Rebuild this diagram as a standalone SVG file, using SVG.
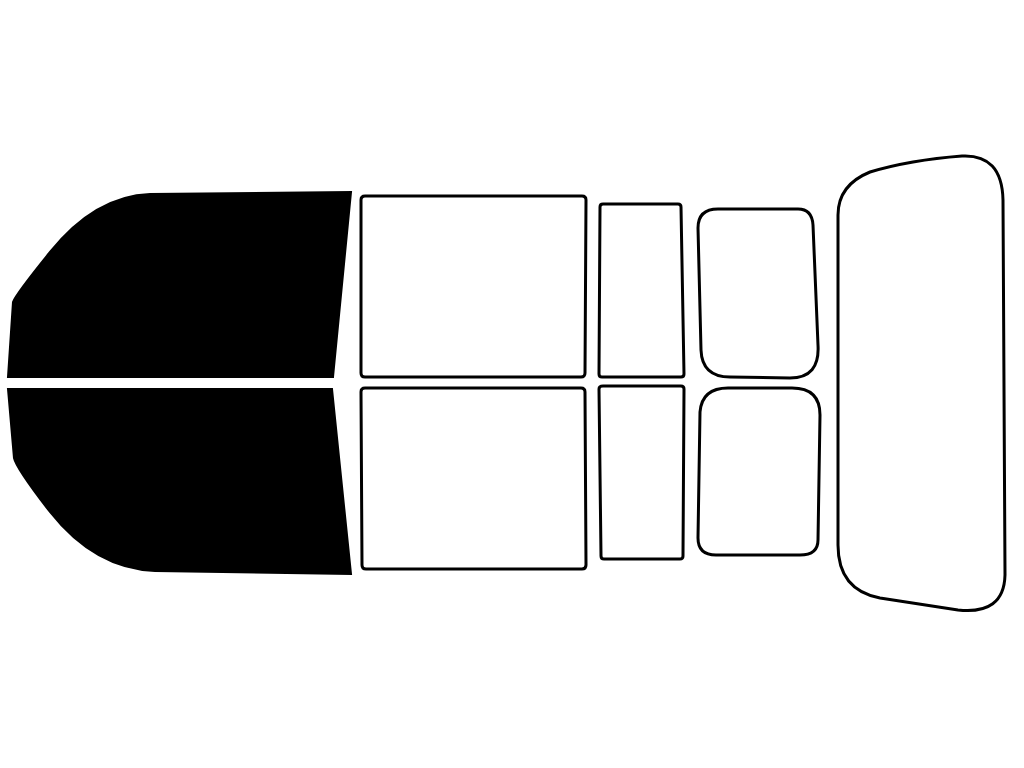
<svg xmlns="http://www.w3.org/2000/svg" width="1024" height="768" viewBox="0 0 1024 768">
<style>.w{fill:#fff;stroke:#000;stroke-width:3;stroke-linejoin:round}.b{fill:#000;stroke:#000;stroke-width:2}</style>
<rect width="1024" height="768" fill="#fff"/>
<path class="b" d="M8,377 L13,302 Q16,294 50,252 Q95,196 150,194 L351,192 L333,377 Z"/>
<path class="b" d="M8,389 L14,458 Q16,468 50,512 Q95,569 155,571 L351,574 L332,389 Z"/>
<path class="w" d="M365,196 L582,196 Q586,196 586,200 L585,373 Q585,377 581,377 L365,377 Q361,377 361,373 L361,200 Q361,196 365,196 Z"/>
<path class="w" d="M365,388 L581,388 Q585,388 585,392 L586,565 Q586,569 582,569 L366,569 Q362,569 362,565 L361,392 Q361,388 365,388 Z"/>
<path class="w" d="M603,204 L678,204 Q681,204 681,207 L684,374 Q684,377 681,377 L602,377 Q599,377 599,374 L600,207 Q600,204 603,204 Z"/>
<path class="w" d="M603,386 L681,386 Q684,386 684,389 L683,556 Q683,559 680,559 L604,559 Q601,559 601,556 L599,389 Q599,386 603,386 Z"/>
<path class="w" d="M718,209 L798,209 Q812,209 813,225 L818,345 Q820,378 790,378 L730,377 Q702,377 701,350 L698,228 Q698,209 718,209 Z"/>
<path class="w" d="M728,388 L792,388 Q820,388 820,415 L818,540 Q818,555 800,555 L716,555 Q698,555 698,538 L700,412 Q702,388 728,388 Z"/>
<path class="w" d="M870,172 Q910,160 962,156 Q1002,154 1003,200 L1005,575 Q1004,615 958,610 L880,598 Q838,590 838,545 L838,215 Q838,185 870,172 Z"/>
</svg>
